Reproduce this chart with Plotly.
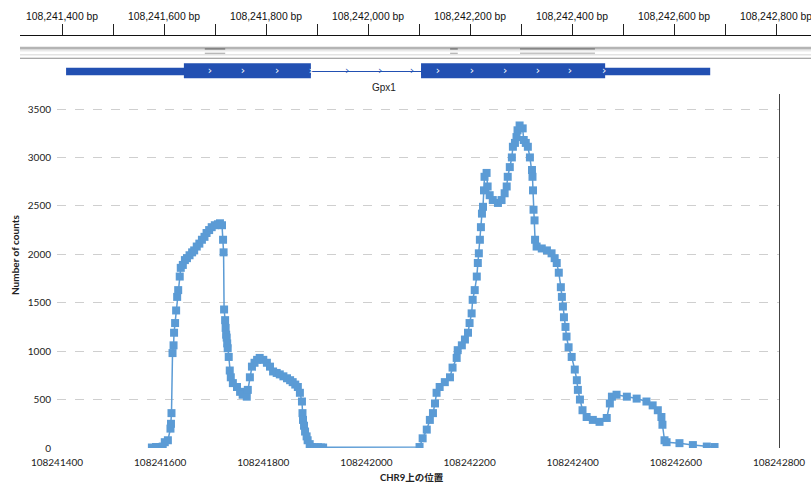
import plotly.graph_objects as go

# ---------------- data ----------------
positions = [
    108241584, 108241592, 108241600, 108241605, 108241609, 108241615, 108241620, 108241621,
    108241622, 108241624, 108241626, 108241627, 108241629, 108241631, 108241633, 108241635,
    108241638, 108241640, 108241644, 108241648, 108241652, 108241657, 108241662, 108241666,
    108241671, 108241676, 108241681, 108241686, 108241690, 108241695, 108241700, 108241706,
    108241712, 108241716, 108241720, 108241722, 108241723, 108241724, 108241726, 108241727,
    108241728, 108241729, 108241730, 108241731, 108241733, 108241735, 108241737, 108241741,
    108241749, 108241755, 108241760, 108241768, 108241770, 108241774, 108241778, 108241783,
    108241788, 108241793, 108241800, 108241807, 108241813, 108241819, 108241826, 108241832,
    108241839, 108241846, 108241852, 108241857, 108241862, 108241867, 108241871, 108241875,
    108241876, 108241877, 108241879, 108241881, 108241884, 108241886, 108241890, 108241894,
    108241900, 108241906, 108241912, 108241916,
    108242103, 108242109, 108242117, 108242123, 108242129, 108242133, 108242136, 108242142,
    108242152, 108242162, 108242167, 108242175, 108242177, 108242185, 108242191, 108242197,
    108242200, 108242204, 108242206, 108242210, 108242214, 108242216, 108242218, 108242220,
    108242222, 108242224, 108242226, 108242228, 108242229, 108242233, 108242235, 108242239,
    108242245, 108242255, 108242262, 108242268, 108242272, 108242274, 108242278, 108242282,
    108242284, 108242288, 108242291, 108242293, 108242297, 108242303, 108242305, 108242309,
    108242313, 108242317, 108242321, 108242322, 108242323, 108242324, 108242326, 108242327,
    108242330, 108242340, 108242350, 108242359, 108242365, 108242369, 108242373, 108242377,
    108242379, 108242381, 108242383, 108242386, 108242388, 108242392, 108242398, 108242404,
    108242408, 108242410, 108242414, 108242419, 108242427, 108242439, 108242452, 108242466,
    108242472, 108242476, 108242485, 108242505, 108242524, 108242543, 108242555, 108242565,
    108242572, 108242574, 108242578, 108242582, 108242607, 108242633, 108242660, 108242675,
]
counts = [
    5, 10, 10, 15, 60, 80, 200, 250,
    360, 980, 1060, 1190, 1290, 1420, 1560, 1630,
    1770, 1860, 1890, 1940, 1960, 1990, 2020, 2040,
    2080, 2110, 2150, 2180, 2220, 2250, 2280, 2300,
    2310, 2320, 2300, 2150, 2020, 1430, 1320, 1240,
    1170, 1140, 1080, 1030, 940, 800, 730, 670,
    630, 580, 550, 530, 600, 730, 840, 880,
    910, 930, 910, 880, 840, 790, 775, 760,
    740, 720, 700, 680, 655, 630, 570, 480,
    360, 290, 230, 170, 120, 80, 40, 10,
    8, 8, 5, 5,
    10, 100, 190, 290, 360, 460, 570, 630,
    680, 730, 830, 930, 1010, 1060, 1120, 1190,
    1290, 1390, 1530, 1630, 1770, 1910, 2010, 2150,
    2280, 2420, 2490, 2660, 2800, 2840, 2700, 2610,
    2560, 2530, 2560, 2630, 2700, 2800, 2900, 3000,
    3110, 3150, 3210, 3280, 3330, 3300, 3180, 3150,
    3110, 3000, 2870, 2800, 2660, 2460, 2350, 2150,
    2080, 2060, 2040, 2010, 1960, 1910, 1810, 1660,
    1560, 1460, 1350, 1250, 1150, 1040, 940, 810,
    700, 600, 500, 390, 320, 290, 270, 310,
    460, 530, 550, 530, 510, 480, 440, 390,
    320, 240, 80, 60, 50, 30, 15, 10,
]

x_ticks = [108241400, 108241600, 108241800, 108242000, 108242200, 108242400, 108242600, 108242800]
y_ticks = [0, 500, 1000, 1500, 2000, 2500, 3000, 3500]

# gene model (IGV track)
gene_name = "Gpx1"
exon_starts = [108241408, 108242104]
exon_ends = [108241888, 108242671]
cds_start, cds_end = 108241639, 108242465
strand_marks_exon = [108241690, 108241755, 108241822, 108241888,
                     108242137, 108242204, 108242269, 108242333, 108242396, 108242463]
strand_marks_intron = [108241959, 108242024, 108242086]
coverage_marks = [(108241680, 108241720), (108242161, 108242176), (108242298, 108242445)]

# ---------------- layout helpers ----------------
W, H = 811, 483
BLUE = "#5B9BD5"
GENE = "#2250b2"
FONT = "Lato, Noto Sans CJK JP, sans-serif"

fig = go.Figure()

fig.add_trace(go.Scatter(
    x=positions, y=counts, mode="lines+markers",
    line=dict(color=BLUE, width=1.5),
    marker=dict(symbol="square", size=8, color=BLUE),
    xaxis="x", yaxis="y", showlegend=False, hoverinfo="x+y",
))
# invisible trace to register right-hand axis line
fig.add_trace(go.Scatter(x=[None], y=[None], xaxis="x", yaxis="y3", showlegend=False))

# strand marks in gene track
fig.add_trace(go.Scatter(
    x=strand_marks_exon, y=[71] * len(strand_marks_exon), mode="text", text=["›"] * len(strand_marks_exon),
    textfont=dict(color="white", size=11, family="DejaVu Sans"), xaxis="x2", yaxis="y2",
    showlegend=False, hoverinfo="skip"))
fig.add_trace(go.Scatter(
    x=strand_marks_intron, y=[71] * len(strand_marks_intron), mode="text", text=["›"] * len(strand_marks_intron),
    textfont=dict(color=GENE, size=11, family="DejaVu Sans"), xaxis="x2", yaxis="y2",
    showlegend=False, hoverinfo="skip"))

shapes = []
# gray track lines
for y0, y1, col in [(46.8, 49.6, "#b4b4b4"), (50.6, 51.2, "#d4d4d4"), (54.6, 55.3, "#c8c8c8"), (57.8, 58.8, "#8c8c8c")]:
    shapes.append(dict(type="rect", xref="x2 domain", yref="y2", x0=0, x1=1, y0=y0, y1=y1,
                       line=dict(width=0), fillcolor=col, layer="below"))
for a, b in coverage_marks:
    shapes.append(dict(type="rect", xref="x2", yref="y2", x0=a, x1=b, y0=48.2, y1=49.6,
                       line=dict(width=0), fillcolor="#777777", layer="below"))
    shapes.append(dict(type="rect", xref="x2", yref="y2", x0=a, x1=b, y0=52.8, y1=53.6,
                       line=dict(width=0), fillcolor="#888888", layer="below"))
# intron line
for i in range(len(exon_starts) - 1):
    shapes.append(dict(type="line", xref="x2", yref="y2", x0=exon_ends[i], x1=exon_starts[i + 1],
                       y0=71.5, y1=71.5, line=dict(color=GENE, width=1), layer="below"))
# exons: UTR (thin) and CDS (thick)
for s, e in zip(exon_starts, exon_ends):
    shapes.append(dict(type="rect", xref="x2", yref="y2", x0=s, x1=e, y0=67.8, y1=75.2,
                       line=dict(width=0), fillcolor=GENE, layer="below"))
    cs, ce = max(s, cds_start), min(e, cds_end)
    if cs < ce:
        shapes.append(dict(type="rect", xref="x2", yref="y2", x0=cs, x1=ce, y0=63.3, y1=78.3,
                           line=dict(width=0), fillcolor=GENE, layer="below"))

# top ruler mapping (51 px per 100 bp, 108,241,400 at px 62)
bp_per_px = 100 / 51.0
x2_left_px = 20
x2_range = [108241400 - (62 - x2_left_px) * bp_per_px, 108241400 + (W - 62) * bp_per_px]

fig.update_layout(
    width=W, height=H,
    margin=dict(l=0, r=0, t=0, b=0, autoexpand=False),
    paper_bgcolor="white", plot_bgcolor="rgba(0,0,0,0)",
    font=dict(family=FONT, color="#222"),
    shapes=shapes,
    xaxis=dict(
        domain=[57 / W, 779 / W], range=[108241400, 108242800],
        tickmode="array", tickvals=x_ticks, ticktext=[str(v) for v in x_ticks],
        showgrid=False, zeroline=False, showline=False, ticks="",
        ticklabelstandoff=7, ticklabeloverflow="allow",
        tickfont=dict(size=10, family=FONT, color="#222"), anchor="y",
    ),
    yaxis=dict(
        domain=[1 - 448 / H, 1 - 94 / H], range=[0, (448 - 94) / (339 / 3500)],
        tickmode="array", tickvals=y_ticks,
        showgrid=True, gridcolor="#cfcfcf", griddash="dash", gridwidth=1,
        zeroline=False, showline=False, ticks="",
        ticklabelstandoff=5,
        tickfont=dict(size=10, family=FONT, color="#222"), anchor="x",
    ),
    yaxis3=dict(
        overlaying="y", side="right", anchor="x",
        range=[0, (448 - 94) / (339 / 3500)],
        showline=True, linecolor="#444", linewidth=1.2,
        showticklabels=False, showgrid=False, zeroline=False, ticks="",
    ),
    xaxis2=dict(
        domain=[x2_left_px / W, 1], range=x2_range, anchor="y2", side="top",
        tick0=108241400, dtick=200, tickformat=",d", ticksuffix=" bp",
        ticks="outside", ticklen=11, tickcolor="#222", tickwidth=1,
        minor=dict(dtick=100, ticks="outside", ticklen=11, tickcolor="#222", tickwidth=1),
        showline=True, linecolor="#111", linewidth=1.2,
        showgrid=False, zeroline=False, ticklabeloverflow="allow",
        tickfont=dict(size=10.4, family="Liberation Sans, Arial, sans-serif", color="#111"),
    ),
    yaxis2=dict(
        domain=[1 - 95 / H, 1 - 36 / H], range=[95, 36], anchor="x2",
        showticklabels=False, showgrid=False, zeroline=False, showline=False, ticks="",
    ),
    annotations=[
        dict(text=gene_name, xref="x2", yref="y2", x=108242031, y=87, showarrow=False,
             font=dict(size=10, family="Liberation Sans, Arial, sans-serif", color="#222")),
        dict(text="<b>Number of counts</b>", xref="paper", yref="paper", x=15 / W, y=1 - 255 / H,
             xanchor="center", yanchor="middle",
             textangle=-90, showarrow=False, font=dict(size=10, family=FONT, color="#222")),
        dict(text="<b>CHR9上の位置</b>", xref="paper", yref="paper", x=412 / W, y=1 - 477 / H,
             xanchor="center", yanchor="middle",
             showarrow=False, font=dict(size=9.5, family=FONT, color="#222")),
    ],
)

fig.write_html("out.html", config={"displayModeBar": False})
